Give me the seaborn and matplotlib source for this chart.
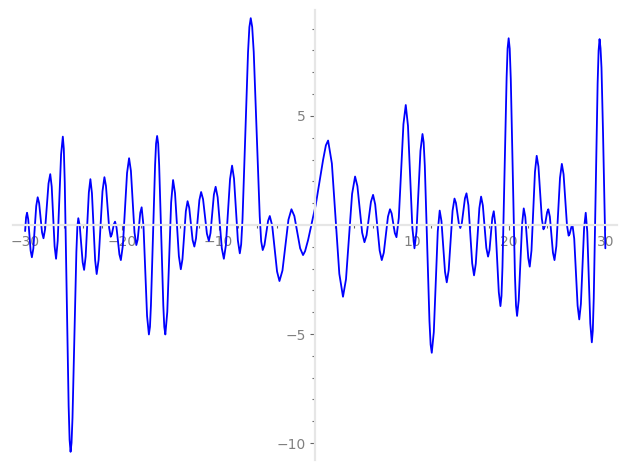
import matplotlib
matplotlib.use("Agg")
import matplotlib.pyplot as plt
from matplotlib.ticker import MultipleLocator, FuncFormatter
import pandas as pd
import seaborn as sns

# --- Data (extrema plus shoulder points) ---
x_vals = [
    -30.0, -29.9, -29.8, -29.68, -29.43, -29.3, -29.15, -28.85, -28.7, -28.55, -28.25, -28.1,
    -27.93, -27.58, -27.4, -27.25, -26.95, -26.8, -26.63, -26.28, -26.1, -26.0, -25.9, -25.5,
    -25.4, -25.3, -25.2, -25.1, -24.7, -24.6, -24.5, -24.35, -24.05, -23.9, -23.74, -23.41,
    -23.25, -23.09, -22.76, -22.6, -22.4, -22.0, -21.8, -21.64, -21.31, -21.15, -21.04, -20.81,
    -20.7, -20.55, -20.25, -20.1, -19.89, -19.46, -19.25, -19.06, -18.69, -18.5, -18.36, -18.09,
    -17.95, -17.76, -17.39, -17.2, -17.09, -16.99, -16.56, -16.46, -16.35, -16.24, -16.14, -15.71,
    -15.61, -15.5, -15.3, -14.9, -14.7, -14.5, -14.1, -13.9, -13.73, -13.38, -13.2, -13.03,
    -12.68, -12.5, -12.33, -11.98, -11.8, -11.6, -11.2, -11.0, -10.83, -10.48, -10.3, -10.09,
    -9.66, -9.45, -9.24, -8.81, -8.6, -8.4, -8.0, -7.8, -7.66, -7.52, -6.95, -6.81, -6.67,
    -6.52, -6.36, -5.74, -5.59, -5.43, -5.25, -4.88, -4.7, -4.45, -3.95, -3.7,
    -3.39, -2.77, -2.46, -2.16, -1.56, -1.26, -1.05, -0.74, -0.35, 0.05, 0.81, 1.1, 1.33,
    1.72, 2.49, 2.87, 3.18, 3.81, 4.12, 4.36, 4.85, 5.09, 5.31, 5.76, 5.98, 6.2, 6.66, 6.88,
    7.09, 7.52, 7.73, 7.9, 8.23, 8.4, 8.64, 9.12, 9.36, 9.59, 10.04, 10.26, 10.47, 10.88, 11.09,
    11.21, 11.33, 11.81, 11.93, 12.05, 12.26, 12.67, 12.87, 13.05, 13.42, 13.6, 13.8, 14.2,
    14.4, 14.55, 14.85, 15.0, 15.16, 15.48, 15.64, 15.84, 16.23, 16.42, 16.6, 16.97, 17.15,
    17.33, 17.69, 17.87, 18.02, 18.31, 18.46, 18.63, 18.98, 19.15, 19.26, 19.36, 19.79, 19.89,
    20.0, 20.11, 20.22, 20.65, 20.76, 20.87, 21.04, 21.39, 21.56, 21.72, 22.03, 22.18, 22.36,
    22.72, 22.9, 23.08, 23.43, 23.6, 23.73, 23.98, 24.1, 24.26, 24.58, 24.74, 24.93, 25.31,
    25.5, 25.68, 26.03, 26.2, 26.3, 26.5, 26.6, 26.78, 27.13, 27.3, 27.47, 27.8, 27.97, 28.13,
    28.44, 28.6, 28.7, 28.8, 29.2, 29.3, 29.4, 29.5, 29.6, 29.76, 30.0,
]
y_vals = [
    -0.28, 0.35, 0.56, 0.26, -1.18, -1.48, -1.08, 0.87, 1.27, 1.0, -0.34, -0.61,
    -0.18, 1.90, 2.33, 1.76, -0.98, -1.55, -0.73, 3.23, 4.05, 3.5, 1.94, -8.29,
    -9.85, -10.4, -9.99, -8.84, -1.25, -0.1, 0.31, -0.04, -1.71, -2.06, -1.45, 1.49,
    2.1, 1.46, -1.61, -2.25, -1.6, 1.54, 2.19, 1.79, -0.14, -0.54, -0.44, 0.05,
    0.15, -0.11, -1.35, -1.61, -0.93, 2.38, 3.06, 2.48, -0.34, -0.92, -0.67, 0.56,
    0.81, -0.04, -4.17, -5.02, -4.67, -3.69, 2.75, 3.73, 4.08, 3.73, 2.75, -3.69,
    -4.67, -5.02, -3.99, 1.03, 2.06, 1.46, -1.43, -2.03, -1.57, 0.63, 1.09, 0.79,
    -0.69, -0.99, -0.62, 1.14, 1.51, 1.18, -0.40, -0.73, -0.37, 1.39, 1.75, 1.27,
    -1.07, -1.55, -0.93, 2.10, 2.72, 2.13, -0.71, -1.3, -0.89, 0.27, 7.91, 9.07, 9.48,
    9.08, 7.93, 0.40, -0.75, -1.15, -0.92, 0.18, 0.41, -0.03, -2.13, -2.57,
    -2.09, 0.24, 0.72, 0.41, -1.07, -1.38, -1.2, -0.69, 0.1, 0.92, 2.98, 3.65, 3.87,
    2.82, -2.24, -3.29, -2.49, 1.42, 2.22, 1.78, -0.35, -0.79, -0.47, 1.06, 1.38, 0.94, -1.17, -1.61,
    -1.27, 0.38, 0.72, 0.53, -0.37, -0.56, 0.32, 4.62, 5.5, 4.54, -0.11, -1.07, -0.30, 3.40, 4.17,
    3.79, 2.71, -4.40, -5.48, -5.86, -4.91, -0.29, 0.66, 0.18, -2.15, -2.63, -2.07, 0.65,
    1.21, 1.01, 0.06, -0.14, 0.09, 1.22, 1.45, 0.90, -1.76, -2.31, -1.78, 0.77, 1.3,
    0.9, -1.05, -1.45, -1.15, 0.33, 0.63, -0.01, -3.08, -3.72, -3.25, -1.93, 6.77, 8.09,
    8.56, 8.08, 6.70, -2.31, -3.69, -4.17, -3.45, 0.04, 0.76, 0.37, -1.52, -1.91, -1.17,
    2.43, 3.17, 2.68, 0.29, -0.2, -0.07, 0.59, 0.72, 0.38, -1.27, -1.61, -0.97, 2.16,
    2.8, 2.32, -0.01, -0.49, -0.42, -0.07, 0.0, -0.63, -3.70, -4.33, -3.62, -0.15, 0.56, -0.31,
    -4.51, -5.38, -4.85, -3.35, 6.49, 7.99, 8.52, 8.1, 7.2, 4.2, -1.07,
]

x_major, x_minor = 10, 2
y_major, y_minor = 5, 1

df = pd.DataFrame({"x": x_vals, "y": y_vals})

sns.set_style("white")
plt.rcParams["font.family"] = ["DejaVu Sans"]

fig = plt.figure(figsize=(6.27, 4.70), dpi=100)
ax = fig.add_axes([0.02, 0.021, 0.964, 0.958])

sns.lineplot(data=df, x="x", y="y", color="blue", linewidth=1.3,
             estimator=None, sort=False, ax=ax)

ax.set_xlim(-31.3, 31.2)
ax.set_ylim(-10.78, 9.86)
ax.set_xlabel("")
ax.set_ylabel("")

# axes crossing at the origin, light grey
for side in ["top", "right"]:
    ax.spines[side].set_visible(False)
for side in ["left", "bottom"]:
    ax.spines[side].set_position(("data", 0))
    ax.spines[side].set_color("#e6e6e6")
    ax.spines[side].set_linewidth(1.6)

def fmt(v, pos):
    if abs(v) < 1e-9:
        return ""
    return f"{v:g}".replace("-", "\u2212")

ax.xaxis.set_major_locator(MultipleLocator(x_major))
ax.xaxis.set_minor_locator(MultipleLocator(x_minor))
ax.yaxis.set_major_locator(MultipleLocator(y_major))
ax.yaxis.set_minor_locator(MultipleLocator(y_minor))
ax.xaxis.set_major_formatter(FuncFormatter(fmt))
ax.yaxis.set_major_formatter(FuncFormatter(fmt))

ax.tick_params(which="both", direction="out", color="#666666", width=0.8,
               labelcolor="#808080", labelsize=10, bottom=True, left=True)
ax.tick_params(which="major", length=3.5)
ax.tick_params(which="minor", length=2)

fig.savefig("out.png", dpi=100)
